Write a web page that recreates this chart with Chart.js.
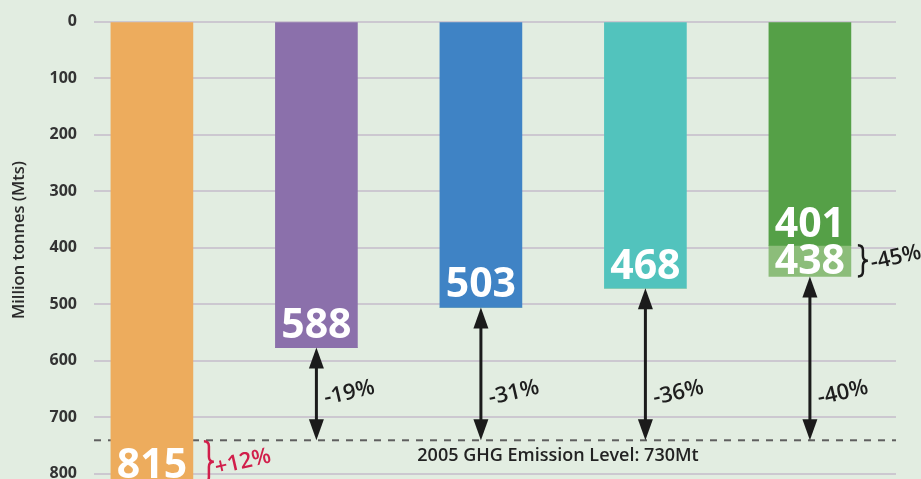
<!DOCTYPE html>
<html><head><meta charset="utf-8">
<script src="https://cdn.jsdelivr.net/npm/chart.js@4.4.1/dist/chart.umd.min.js"></script>
<style>
html,body{margin:0;padding:0;background:#e2ede1;}
#wrap{width:921px;height:479px;position:relative;overflow:hidden;}
canvas{display:block;}
</style>
</head><body>
<div id="wrap"><canvas id="c" width="921" height="479" style="width:921px;height:479px"></canvas></div>
<script>
// ---- data ----
const categories = ['Projected (no action)', 'Scenario A', 'Scenario B', 'Scenario C', 'Scenario D'];
const barEnds = [815, 577, 506, 472, 396];          // main bar lengths (Mt, axis reversed)
const extraSegment = [0, 0, 0, 0, 55];              // light-green extension of last bar
const valueLabels = ['815', '588', '503', '468', '401'];
const extraValueLabel = '438';
const changeLabels = ['+12%', '-19%', '-31%', '-36%', '-40%'];
const extraChangeLabel = '-45%';
const baselineLevel = 741;
const baselineText = '2005 GHG Emission Level: 730Mt';
const yTicks = [0, 100, 200, 300, 400, 500, 600, 700, 800];
const yTitle = 'Million tonnes (Mts)';

const barColors = ['#edac5d', '#8b70ab', '#3f83c5', '#52c3bd', '#55a047'];
const extraColor = '#8cbd7a';
const FONT = "'Open Sans', 'DejaVu Sans', sans-serif";

function drawBrace(ctx, x, y1, y2, w) {
  const mid = (y1 + y2) / 2, h = w / 2;
  ctx.beginPath();
  ctx.moveTo(x, y1);
  ctx.quadraticCurveTo(x + h, y1, x + h, y1 + h);
  ctx.lineTo(x + h, mid - h);
  ctx.quadraticCurveTo(x + h, mid, x + w, mid);
  ctx.quadraticCurveTo(x + h, mid, x + h, mid + h);
  ctx.lineTo(x + h, y2 - h);
  ctx.quadraticCurveTo(x + h, y2, x, y2);
  ctx.stroke();
}
function arrowHead(ctx, x, tipY, dir) { // dir -1 = pointing up, +1 = pointing down
  ctx.beginPath();
  ctx.moveTo(x, tipY);
  ctx.lineTo(x - 7.5, tipY - dir * 21);
  ctx.lineTo(x + 7.5, tipY - dir * 21);
  ctx.closePath();
  ctx.fill();
}
function rotText(ctx, txt, x, y, ang, font, color) {
  ctx.save();
  ctx.translate(x, y);
  ctx.rotate(ang);
  ctx.font = font;
  ctx.fillStyle = color;
  ctx.textAlign = 'center';
  ctx.textBaseline = 'middle';
  ctx.fillText(txt, 0, 0);
  ctx.restore();
}

const baselinePlugin = {
  id: 'baseline',
  beforeDatasetsDraw(chart) {
    const {ctx, chartArea: a, scales: {y}} = chart;
    const yy = y.getPixelForValue(baselineLevel);
    ctx.save();
    ctx.strokeStyle = '#5f5f5f';
    ctx.lineWidth = 2;
    ctx.setLineDash([7, 7]);
    ctx.beginPath();
    ctx.moveTo(a.left, yy);
    ctx.lineTo(a.right, yy);
    ctx.stroke();
    ctx.restore();
  }
};

const notesPlugin = {
  id: 'notes',
  afterDatasetsDraw(chart) {
    const {ctx, chartArea: a, scales: {y}} = chart;
    const m0 = chart.getDatasetMeta(0).data;
    const yBase = y.getPixelForValue(baselineLevel);
    const totals = barEnds.map((v, i) => v + extraSegment[i]);
    ctx.save();
    // axis title
    rotText(ctx, yTitle, 19, 240, -Math.PI / 2, `600 16.5px ${FONT}`, '#2b2b2b');
    // baseline caption
    ctx.font = `600 18px ${FONT}`;
    ctx.fillStyle = '#232323';
    ctx.textAlign = 'center';
    ctx.textBaseline = 'middle';
    ctx.fillText(baselineText, 558, yBase + 16);
    // arrows
    ctx.strokeStyle = '#1b1b1b';
    ctx.fillStyle = '#1b1b1b';
    ctx.lineWidth = 3;
    for (let i = 1; i < m0.length; i++) {
      const x = m0[i].x;
      const top = y.getPixelForValue(totals[i]);
      ctx.beginPath();
      ctx.moveTo(x, top + 15);
      ctx.lineTo(x, yBase - 15);
      ctx.stroke();
      arrowHead(ctx, x, top, -1);
      arrowHead(ctx, x, yBase, 1);
    }
    // change labels
    const ang = -13 * Math.PI / 180;
    const pf = `600 22px ${FONT}`;
    for (let i = 1; i < m0.length; i++) {
      rotText(ctx, changeLabels[i], m0[i].x + 33, 393, ang, pf, '#1e1e1e');
    }
    // red brace for first bar
    ctx.strokeStyle = '#d11f4b';
    ctx.lineWidth = 2.5;
    const b0 = m0[0];
    const right0 = b0.x + b0.width / 2;
    const y815 = y.getPixelForValue(totals[0]);
    drawBrace(ctx, right0 + 11, yBase + 1, y815, 10);
    rotText(ctx, changeLabels[0], right0 + 50, (yBase + y815) / 2 + 1, ang, pf, '#d11f4b');
    // black brace for last bar
    const bl = m0[m0.length - 1];
    const rightL = bl.x + bl.width / 2;
    const yD = y.getPixelForValue(barEnds[4]);
    const yL = y.getPixelForValue(totals[4]);
    ctx.strokeStyle = '#1b1b1b';
    drawBrace(ctx, rightL + 7, yD, yL, 10);
    rotText(ctx, extraChangeLabel, rightL + 45, (yD + yL) / 2 - 3, ang, pf, '#1e1e1e');
    // value labels
    ctx.font = `bold 41px ${FONT}`;
    ctx.fillStyle = '#ffffff';
    ctx.textAlign = 'center';
    ctx.textBaseline = 'alphabetic';
    const gaps = [4, 10, 10, 9, 8];
    for (let i = 0; i < m0.length; i++) {
      const end = y.getPixelForValue(barEnds[i]);
      ctx.fillText(valueLabels[i], m0[i].x, end - gaps[i]);
    }
    ctx.fillText(extraValueLabel, bl.x, yL - 2);
    ctx.restore();
  }
};

new Chart(document.getElementById('c'), {
  type: 'bar',
  data: {
    labels: categories,
    datasets: [
      {
        label: 'Emissions',
        data: barEnds.map((v, i) => ({x: i, y: v})),
        backgroundColor: barColors,
        barThickness: 82,
        borderWidth: 0
      },
      {
        label: 'Additional',
        data: extraSegment.map((v, i) => ({x: i, y: v})),
        backgroundColor: extraColor,
        barThickness: 82,
        borderWidth: 0
      }
    ]
  },
  options: {
    responsive: false,
    maintainAspectRatio: false,
    animation: false,
    devicePixelRatio: 1,
    layout: {padding: {top: 21.5, right: 25, bottom: 0, left: 0}},
    plugins: {legend: {display: false}, tooltip: {enabled: false}},
    scales: {
      x: {
        type: 'linear',
        display: false,
        offset: false,
        stacked: true,
        min: -0.352,
        max: 4.5234
      },
      y: {
        stacked: true,
        reverse: true,
        min: 0,
        max: 809.5,
        afterBuildTicks(scale) { scale.ticks = yTicks.map(v => ({value: v})); },
        afterFit(scale) {
          scale.width = 94;
          scale.paddingTop = 0;
          scale.paddingBottom = 0;
        },
        border: {display: false},
        grid: {color: '#ccc8d0', lineWidth: 2, drawTicks: false},
        ticks: {
          autoSkip: false,
          padding: 17,
          color: '#333333',
          font: {family: FONT, size: 16, weight: 'bold'}
        }
      }
    }
  },
  plugins: [baselinePlugin, notesPlugin]
});
</script>
</body></html>
